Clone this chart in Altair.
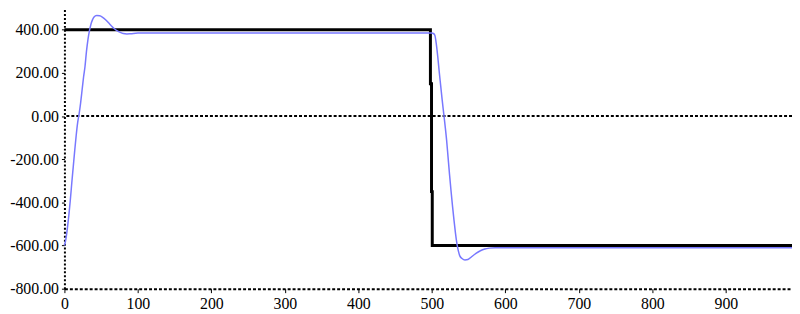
import altair as alt
import pandas as pd

# Blue response curve
blue_x = [0, 2, 4, 6, 8, 10, 12, 14, 16, 18, 20, 22, 24, 26, 28, 30, 32, 34, 36, 38, 40,
          44, 48, 52, 56, 60, 64, 68, 72, 76, 80, 85, 90, 100, 200, 300, 400, 500,
          502, 504, 506, 508, 510, 512, 514, 516, 518, 520, 522, 524, 526, 528, 530, 532, 534,
          536, 538, 541, 545, 549, 554, 560, 566, 572, 578, 586, 600, 700, 800, 900, 990]
blue_y = [-600, -570, -520, -460, -390, -310, -235, -160, -90, -30, 10, 60, 120, 180, 230, 300, 355, 395, 425, 445, 458,
          466, 465, 458, 447, 433, 418, 405, 395, 388, 383, 381, 382, 385, 385, 385, 385, 385,
          383, 375, 335, 275, 205, 140, 75, 15, -45, -110, -190, -270, -345, -415, -480, -540, -590,
          -625, -648, -660, -667, -665, -652, -636, -624, -616, -612, -610, -610, -610, -610, -610, -610]

# Black reference step
black_x = [0, 498, 498, 499.5, 499.5, 500.5, 500.5, 990]
black_y = [400, 400, 150, 150, -350, -350, -600, -600]

x_ticks = [0, 100, 200, 300, 400, 500, 600, 700, 800, 900]
y_ticks = [-800, -600, -400, -200, 0, 200, 400]

blue_df = pd.DataFrame({"x": blue_x, "y": blue_y, "i": range(len(blue_x))})
black_df = pd.DataFrame({"x": black_x, "y": black_y, "i": range(len(black_x))})
zero_df = pd.DataFrame({"y": [0]})

xs = alt.Scale(domain=[0, 990], nice=False, zero=False)
ys = alt.Scale(domain=[-800, 494], nice=False, zero=False)

FONT = "Liberation Serif"

xaxis = alt.Axis(values=x_ticks, format="d", title=None, grid=False,
                 domainDash=[3, 2], domainWidth=2, domainColor="black",
                 tickSize=4, tickColor="black", tickWidth=1,
                 labelFont=FONT, labelFontSize=16, labelColor="black",
                 labelPadding=3, labelFlush=False, labelOverlap=False)
yaxis = alt.Axis(values=y_ticks, title=None, grid=False,
                 labelExpr="(datum.value < 0 ? '-' : '') + format(abs(datum.value), '.2f')",
                 domainDash=[2, 2], domainWidth=2, domainColor="black",
                 tickSize=3, tickColor="black", tickWidth=1,
                 labelFont=FONT, labelFontSize=16, labelColor="black",
                 labelPadding=3, labelOverlap=False)

zero = alt.Chart(zero_df).mark_rule(color="black", strokeWidth=2, strokeDash=[3, 2]).encode(
    y=alt.Y("y:Q", scale=ys, axis=yaxis)
)

blue = alt.Chart(blue_df).mark_line(color="#7878ff", strokeWidth=1.5, interpolate="monotone").encode(
    x=alt.X("x:Q", scale=xs, axis=xaxis),
    y=alt.Y("y:Q", scale=ys, axis=yaxis),
    order="i:Q",
)

black = alt.Chart(black_df).mark_line(color="black", strokeWidth=3).encode(
    x=alt.X("x:Q", scale=xs, axis=xaxis),
    y=alt.Y("y:Q", scale=ys, axis=yaxis),
    order="i:Q",
)

chart = (
    alt.layer(zero, black, blue)
    .properties(
        width=735, height=282,
        autosize=alt.AutoSizeParams(type="none"),
        padding={"left": 57, "top": 0, "right": 0, "bottom": 24},
    )
    .configure(background="white", font=FONT)
    .configure_view(strokeWidth=0)
    .configure_axis(labelFont=FONT, labelFontSize=16, labelColor="black")
)

chart.save("out.html", embed_options={"renderer": "svg", "actions": False})
